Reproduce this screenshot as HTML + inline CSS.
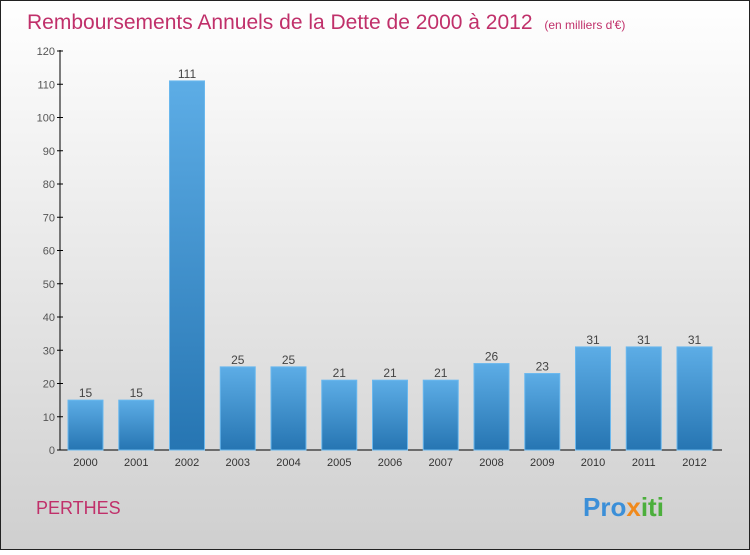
<!DOCTYPE html>
<html><head><meta charset="utf-8"><style>
body{margin:0;width:750px;height:550px;overflow:hidden;font-family:"Liberation Sans",sans-serif}
</style></head><body>
<svg width="750" height="550" xmlns="http://www.w3.org/2000/svg">
<defs>
<linearGradient id="bg" x1="0" y1="0" x2="0" y2="1"><stop offset="0" stop-color="#ffffff"/><stop offset="1" stop-color="#cfcfcf"/></linearGradient>
<linearGradient id="bar" x1="0" y1="0" x2="0" y2="1"><stop offset="0" stop-color="#5dade6"/><stop offset="1" stop-color="#2675b2"/></linearGradient>
</defs>
<rect x="0.5" y="0.5" width="749" height="549" fill="url(#bg)" stroke="#222"/>
<text x="27" y="29" font-size="21" fill="#c0306a">Remboursements Annuels de la Dette de 2000 à 2012 <tspan font-size="12" dx="6">(en milliers d'€)</tspan></text>
<g id="axes"></g>
<g id="bars"></g>
<text x="36" y="514" font-size="18" fill="#c0306a">PERTHES</text>
<text x="583" y="516" font-size="26" font-weight="bold"><tspan fill="#3b8fd8">Pro</tspan><tspan fill="#f08a1c">x</tspan><tspan fill="#4caf3c">iti</tspan></text>
</svg>
<script>
const categories=["2000","2001","2002","2003","2004","2005","2006","2007","2008","2009","2010","2011","2012"];
const values=[15,15,111,25,25,21,21,21,26,23,31,31,31];
const ticks=[0,10,20,30,40,50,60,70,80,90,100,110,120];
const NS="http://www.w3.org/2000/svg";
const y=v=>450-v*3.325;
const x=i=>85.5+i*50.75;
function mk(t,a,p){const e=document.createElementNS(NS,t);for(const k in a)e.setAttribute(k,a[k]);p.appendChild(e);return e;}
const ax=document.getElementById('axes'),bg=document.getElementById('bars');
let l=mk('line',{x1:60,y1:y(120)-1,x2:60,y2:450,stroke:'#000'},ax);


l=mk('line',{x1:60,y1:450,x2:722,y2:450,stroke:'#000'},ax);


ticks.forEach(t=>{
 mk('line',{x1:57,y1:y(t),x2:63,y2:y(t),stroke:'#000'},ax);
 const tx=mk('text',{x:55,y:y(t)+4,'text-anchor':'end','font-size':'11',fill:'#555'},ax);
 tx.textContent=t;
 
 
});
categories.forEach((c,i)=>{
 const r=mk('rect',{x:x(i)-17.5,y:y(values[i]),width:35,height:450-y(values[i]),fill:'url(#bar)',stroke:'#6ab8ee','stroke-width':1},bg);
 
 
 const v=mk('text',{x:x(i),y:y(values[i])-3,'text-anchor':'middle','font-size':'12',fill:'#444'},bg);
 v.textContent=values[i];
 
 
 const lb=mk('text',{x:x(i),y:466,'text-anchor':'middle','font-size':'11',fill:'#333'},ax);
 lb.textContent=c;
 
 
});
</script>
</body></html>
